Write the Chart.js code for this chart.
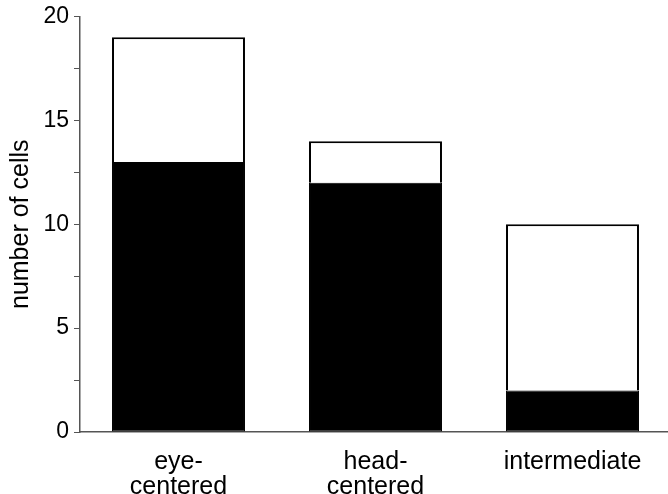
<!DOCTYPE html>
<html>
<head>
<meta charset="utf-8">
<script src="https://cdn.jsdelivr.net/npm/chart.js@4"></script>
<style>
  body { margin: 0; background: #fff; overflow: hidden; }
</style>
</head>
<body>
<canvas id="cellsChart" width="671" height="494"></canvas>
<script>
// Cell categories and counts
const categories = [['eye-', 'centered'], ['head-', 'centered'], 'intermediate'];
const blackCounts = [13, 12, 2];
const whiteCounts = [6, 2, 8];
const majorTicks = [0, 5, 10, 15, 20];

const fontFamily = 'Liberation Sans, Arial, Helvetica, sans-serif';
const ctx = document.getElementById('cellsChart').getContext('2d');

new Chart(ctx, {
  type: 'bar',
  data: {
    labels: categories,
    datasets: [
      {
        data: blackCounts,
        backgroundColor: '#000',
        borderColor: '#000',
        borderWidth: 1,
        borderSkipped: false,
        barPercentage: 0.675,
        categoryPercentage: 1
      },
      {
        data: whiteCounts,
        backgroundColor: '#fff',
        borderColor: '#000',
        borderWidth: 2,
        borderSkipped: 'bottom',
        barPercentage: 0.675,
        categoryPercentage: 1
      }
    ]
  },
  options: {
    responsive: false,
    animation: false,
    layout: { padding: { top: 16, right: 0, left: 0, bottom: 0 } },
    plugins: {
      legend: { display: false },
      tooltip: { enabled: false }
    },
    scales: {
      x: {
        stacked: true,
        grid: { display: false },
        border: { color: '#555', width: 1.5 },
        ticks: {
          color: '#000',
          padding: 10,
          font: { family: fontFamily, size: 25, lineHeight: 1.0 }
        },
        afterFit: function (scale) { scale.height = 62; }
      },
      y: {
        stacked: true,
        min: 0,
        max: 20,
        title: {
          display: true,
          text: 'number of cells',
          color: '#000',
          padding: { top: 6, bottom: 0 },
          font: { family: fontFamily, size: 25 }
        },
        border: { color: '#555', width: 1.5 },
        grid: {
          drawOnChartArea: false,
          tickLength: 6,
          color: '#555'
        },
        ticks: {
          stepSize: 2.5,
          color: '#000',
          padding: 5,
          font: { family: fontFamily, size: 23, lineHeight: 1.0 },
          callback: function (value) {
            return majorTicks.includes(value) ? value : '';
          }
        },
        afterFit: function (scale) { scale.width = 80; }
      }
    }
  }
});
</script>
</body>
</html>
